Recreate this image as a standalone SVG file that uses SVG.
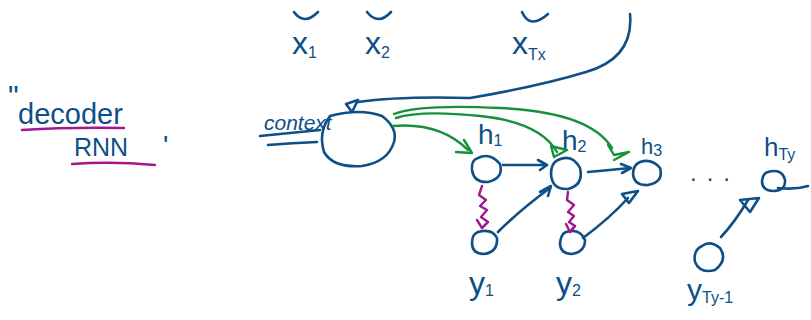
<svg xmlns="http://www.w3.org/2000/svg" width="811" height="320" viewBox="0 0 811 320">
  <style>
    .ink { fill: none; stroke: #0d4f86; stroke-width: 2.6; stroke-linecap: round; stroke-linejoin: round; }
    .grn { fill: none; stroke: #17903a; stroke-width: 2.4; stroke-linecap: round; stroke-linejoin: round; }
    .mag { fill: none; stroke: #a3168f; stroke-width: 2.4; stroke-linecap: round; stroke-linejoin: round; }
    .lbl { fill: #0d4f86; font-family: "Liberation Sans", "DejaVu Sans", sans-serif; }
    .sub { font-size: 16px; }
  </style>
  <rect width="811" height="320" fill="#ffffff"/>

  <!-- title -->
  <g id="title">
    <text class="lbl" x="8" y="106" font-size="30">"</text>
    <text class="lbl" x="18" y="124" font-size="29">decoder</text>
    <path class="mag" d="M22 130 Q70 127 124 128"/>
    <text class="lbl" x="74" y="156" font-size="25">RNN</text>
    <path class="mag" d="M72 164 Q112 161 155 165"/>
    <text class="lbl" x="163" y="155" font-size="28">'</text>
  </g>

  <!-- encoder inputs -->
  <g id="x1">
    <path class="ink" d="M294 12 Q304 26 318 12"/>
    <text class="lbl" x="292" y="54" font-size="32">x<tspan class="sub" dy="4">1</tspan></text>
  </g>
  <g id="x2">
    <path class="ink" d="M367 12 Q378 26 391 12"/>
    <text class="lbl" x="365" y="54" font-size="32">x<tspan class="sub" dy="4">2</tspan></text>
  </g>
  <g id="xTx">
    <path class="ink" d="M522 12 Q530 30 548 14"/>
    <text class="lbl" x="512" y="54" font-size="32">x<tspan class="sub" dy="6">Tx</tspan></text>
  </g>

  <!-- context node -->
  <g id="context">
    <text class="lbl" x="264" y="130" font-size="21" font-style="italic">context</text>
    <path class="ink" d="M260 136 Q290 133 320 130"/>
    <path class="ink" d="M268 145 Q292 143 317 142"/>
    <path class="ink" d="M330 116 Q360 108 382 116 Q398 128 394 142 Q388 162 362 166 Q333 168 324 152 Q318 132 330 116 Z"/>
  </g>

  <!-- decoder hidden states -->
  <g id="h1">
    <text class="lbl" x="478" y="144" font-size="28">h<tspan class="sub" dy="2">1</tspan></text>
    <path class="ink" d="M478 158 Q490 152 500 164 Q504 178 488 182 Q474 183 472 170 Q471 160 478 158 Z"/>
  </g>
  <g id="h2">
    <text class="lbl" x="562" y="150" font-size="28">h<tspan class="sub" dy="2">2</tspan></text>
    <path class="ink" d="M558 160 Q572 153 580 168 Q584 185 568 189 Q552 190 551 174 Q551 163 558 160 Z"/>
  </g>
  <g id="h3">
    <text class="lbl" x="641" y="154" font-size="22">h<tspan class="sub" dy="2" font-size="13">3</tspan></text>
    <path class="ink" d="M640 162 Q652 158 660 168 Q664 182 648 185 Q634 186 633 174 Q633 165 640 162 Z"/>
  </g>
  <g id="ellipsis">
    <text class="lbl" x="690" y="181" font-size="24" letter-spacing="10">...</text>
  </g>
  <g id="hTy">
    <text class="lbl" x="764" y="156" font-size="26">h<tspan class="sub" dy="4">Ty</tspan></text>
    <path class="ink" d="M768 172 Q782 168 785 180 Q786 190 774 191 Q762 191 762 181 Q763 173 768 172 Z M778 188 Q795 190 808 186"/>
  </g>

  <!-- decoder outputs -->
  <g id="y1">
    <path class="ink" d="M478 232 Q492 228 497 238 Q498 252 484 254 Q472 254 472 243 Q472 234 478 232 Z"/>
    <text class="lbl" x="469" y="294" font-size="32">y<tspan class="sub" dy="2">1</tspan></text>
  </g>
  <g id="y2">
    <path class="ink" d="M566 232 Q580 228 585 240 Q585 252 572 254 Q560 254 560 243 Q561 234 566 232 Z"/>
    <text class="lbl" x="556" y="294" font-size="32">y<tspan class="sub" dy="2">2</tspan></text>
  </g>
  <g id="yTy-1">
    <path class="ink" d="M702 246 Q710 240 720 248 Q728 260 715 270 Q700 274 695 262 Q693 250 702 246 Z"/>
    <text class="lbl" x="687" y="300" font-size="30">y<tspan class="sub" dy="3">Ty-1</tspan></text>
  </g>

  <!-- connectors -->
  <g id="connectors">
    <!-- encoder summary into context -->
    <path class="ink" d="M630 14 Q634 58 586 72 Q540 86 470 98 Q400 96 358 102"/>
    <path class="ink" d="M346 104 L358 100 L352 112 Z"/>

    <!-- context fed to every decoder step -->
    <path class="grn" d="M393 126 Q440 122 468 150"/>
    <path class="grn" d="M456 152 L472 153 L464 140"/>
    <path class="grn" d="M396 118 Q420 110 480 116 Q540 122 557 152"/>
    <path class="grn" d="M551 146 L554 157 L567 150 Z"/>
    <path class="grn" d="M394 114 Q420 104 500 108 Q590 112 612 148"/>
    <path class="grn" d="M608 145 L614 155 L629 152 L614 160"/>

    <!-- recurrent links -->
    <path class="ink" d="M503 165 L546 165"/>
    <path class="ink" d="M538 160 L547 165 L540 170"/>
    <path class="ink" d="M588 172 Q610 170 630 168"/>
    <path class="ink" d="M621 164 L631 168 L622 173"/>

    <!-- outputs fed back in -->
    <path class="ink" d="M498 232 Q520 210 550 188"/>
    <path class="ink" d="M540 192 L551 186 L548 196"/>
    <path class="ink" d="M583 238 Q610 218 628 198"/>
    <path class="ink" d="M622 194 L638 191 L629 203 Z"/>
    <path class="ink" d="M721 237 Q735 222 748 200"/>
    <path class="ink" d="M740 200 L759 198 L750 212 Z"/>

    <!-- generated token links -->
    <path class="mag" d="M482 186 L479 195 L486 200 L480 206 L487 210 L481 217 L488 222 L482 228"/>
    <path class="mag" d="M477 220 L482 228 L488 222"/>
    <path class="mag" d="M568 192 L567 200 L574 205 L568 212 L574 216 L569 222 L575 226 L570 232"/>
    <path class="mag" d="M566 224 L570 232 L575 226"/>
  </g>
</svg>
